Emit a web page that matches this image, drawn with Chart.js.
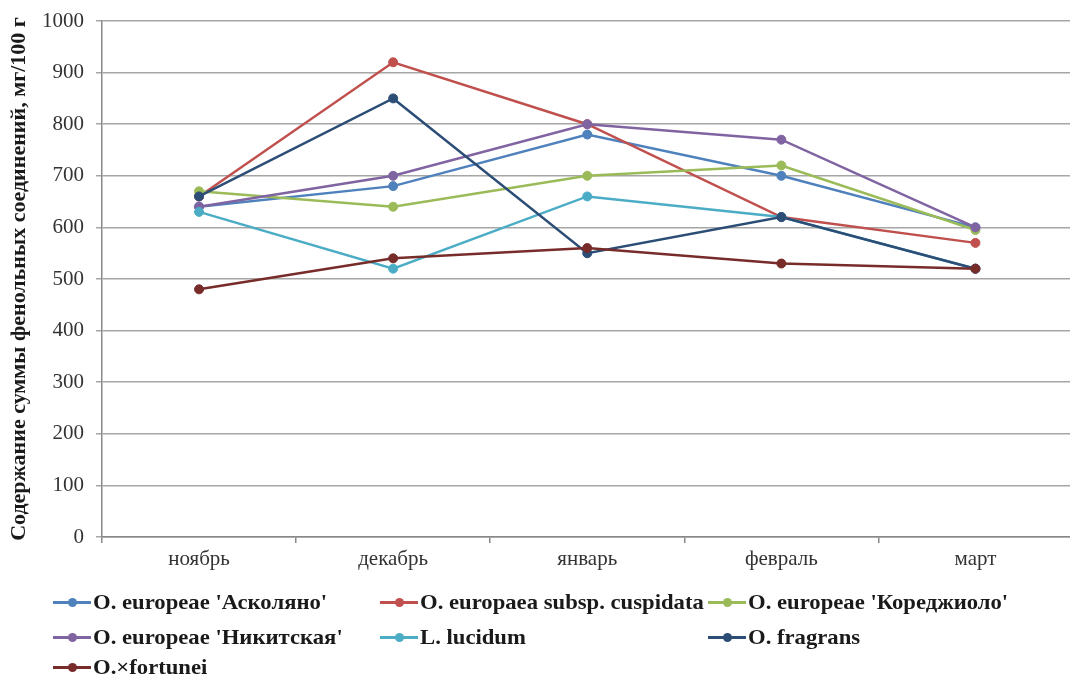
<!DOCTYPE html>
<html>
<head>
<meta charset="utf-8">
<script src="https://cdn.jsdelivr.net/npm/chart.js@4"></script>
<style>
  html, body { margin:0; padding:0; background:#fff; width:1070px; height:677px; overflow:hidden; }
  #wrap { position:absolute; left:0; top:0; width:1078px; height:580px; }
  #legend { position:absolute; left:0; top:0; width:1070px; height:677px; pointer-events:none;
            font-family:"Liberation Serif","Times New Roman",serif; font-weight:bold; font-size:21px; color:#1a1a1a; }
  .item { position:absolute; display:flex; align-items:center; height:24px; white-space:nowrap; }
  .sym { position:relative; width:38px; height:24px; margin-right:2px; flex:none; }
  .sym .ln { position:absolute; left:0; right:0; top:11px; height:3px; }
  .sym .dt { position:absolute; left:15px; top:8px; width:9px; height:9px; border-radius:50%; }
  .txt { display:inline-block; transform:scaleX(1.08); transform-origin:left center; }
</style>
</head>
<body>
<div id="wrap"><canvas id="c" width="1078" height="580"></canvas></div>
<div id="legend"></div>
<script>
const months = ['ноябрь','декабрь','январь','февраль','март'];
const yTicks = [0,100,200,300,400,500,600,700,800,900,1000];
const seriesNames = ["O. europeae 'Асколяно'", "O. europaea subsp. cuspidata", "O. europeae 'Кореджиоло'",
                     "O. europeae 'Никитская'", "L. lucidum", "O. fragrans", "O.×fortunei"];
const ascolano   = [640, 680, 780, 700, 600];
const cuspidata  = [660, 920, 800, 620, 570];
const coreggiolo = [670, 640, 700, 720, 595];
const nikitskaya = [640, 700, 800, 770, 600];
const lucidum    = [630, 520, 660, 620, 520];
const fragrans   = [660, 850, 550, 620, 520];
const fortunei   = [480, 540, 560, 530, 520];
const colors = ['#4F81BD','#C0504D','#9BBB59','#8064A2','#4BACC6','#2C4D75','#772C2A'];
const seriesData = [ascolano, cuspidata, coreggiolo, nikitskaya, lucidum, fragrans, fortunei];

const datasets = seriesData.map((d, i) => ({
  label: seriesNames[i],
  data: d,
  borderColor: colors[i],
  backgroundColor: colors[i],
  borderWidth: 2.5,
  pointRadius: 4.5,
  pointBorderWidth: 1,
  pointBackgroundColor: colors[i],
  pointBorderColor: colors[i],
  tension: 0,
  order: 10 - i
}));

const serif = '"Liberation Serif","Times New Roman",serif';

new Chart(document.getElementById('c'), {
  type: 'line',
  data: { labels: months, datasets },
  options: {
    responsive: false,
    animation: false,
    layout: { padding: { top: 21, left: 0, right: 0, bottom: 0 } },
    plugins: { legend: { display: false }, tooltip: { enabled: false } },
    scales: {
      x: {
        offset: true,
        grid: { display: true, drawOnChartArea: false, offset: true, tickLength: 6, color: '#888', lineWidth: 1.5 },
        border: { color: '#888', width: 1.5 },
        ticks: { color: '#333', font: { family: serif, size: 21 }, padding: 4, maxRotation: 0 },
        afterFit: s => { s.height = 43; }
      },
      y: {
        min: 0, max: 1000,
        afterBuildTicks: s => { s.ticks = yTicks.map(v => ({ value: v })); },
        grid: { color: '#a6a6a6', lineWidth: 1.5, tickLength: 6 },
        border: { color: '#888', width: 1.5 },
        ticks: { color: '#333', font: { family: serif, size: 21 }, padding: 12, callback: v => String(v) },
        title: { display: true, text: 'Содержание суммы фенольных соединений, мг/100 г',
                 font: { family: serif, size: 22, weight: 'bold' }, color: '#1a1a1a', padding: { top: 6, bottom: 0 } },
        afterFit: s => { s.width = 102; s.paddingTop = 0; s.paddingBottom = 0; }
      }
    }
  }
});

// HTML legend in three columns
const legend = document.getElementById('legend');
const colX = [53, 380, 708];
const rowY = [590, 625, 655];
seriesNames.forEach((name, i) => {
  const el = document.createElement('div');
  el.className = 'item';
  el.style.left = colX[i % 3] + 'px';
  el.style.top = rowY[Math.floor(i / 3)] + 'px';
  el.innerHTML = '<span class="sym"><span class="ln" style="background:' + colors[i] + '"></span><span class="dt" style="background:' + colors[i] + '"></span></span>';
  const t = document.createElement('span');
  t.className = 'txt';
  t.textContent = name;
  el.appendChild(t);
  legend.appendChild(el);
});
</script>
</body>
</html>
